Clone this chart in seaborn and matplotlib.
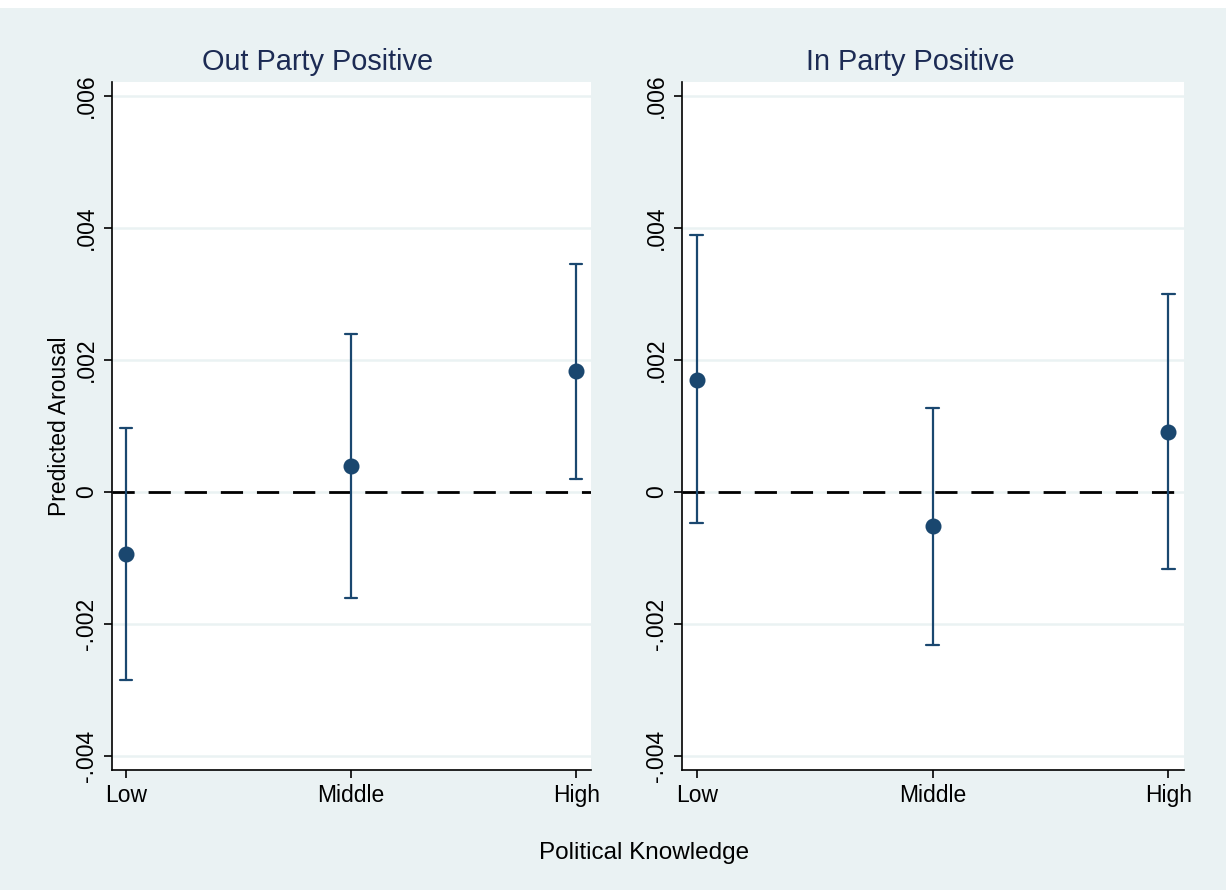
import seaborn as sns
import matplotlib.pyplot as plt
import matplotlib.patches as mpatches
import pandas as pd

# niveis de conhecimento politico
levels = ['Low', 'Middle', 'High']
panels = ['Out Party Positive', 'In Party Positive']

# estimativas e intervalos
out_est = [-0.00094, 0.00039, 0.00183]
out_lo = [-0.00285, -0.00161, 0.00019]
out_hi = [0.00097, 0.00239, 0.00345]

in_est = [0.00169, -0.00052, 0.00091]
in_lo = [-0.00047, -0.00232, -0.00117]
in_hi = [0.00389, 0.00128, 0.00300]

yticks = [-0.004, -0.002, 0, 0.002, 0.004, 0.006]
ytick_labels = ['-.004', '-.002', '0', '.002', '.004', '.006']

bg = '#eaf2f3'
navy = '#1a476f'

sns.set_theme(style='white')
plt.rcParams['font.family'] = ['Liberation Sans', 'DejaVu Sans']
plt.rcParams['text.color'] = 'black'
plt.rcParams['xtick.color'] = 'black'
plt.rcParams['ytick.color'] = 'black'

# tabela longa: cada nivel tem (lo, est, hi); mediana = est, min/max = IC
rows = []
for panel, est, lo, hi in [(panels[0], out_est, out_lo, out_hi),
                           (panels[1], in_est, in_lo, in_hi)]:
    for lev, e, l, h in zip(levels, est, lo, hi):
        for v in (l, e, h):
            rows.append({'panel': panel, 'level': lev, 'value': v})
df = pd.DataFrame(rows)

fig = plt.figure(figsize=(12.26, 8.9), dpi=100, facecolor=bg)
fig.patches.append(mpatches.Rectangle((0, 1 - 8 / 890), 1, 8 / 890, transform=fig.transFigure,
                                      facecolor='white', edgecolor='none', zorder=0))

axes_pos = [[112 / 1226, 1 - 770 / 890, 479 / 1226, 688 / 890],
            [682 / 1226, 1 - 770 / 890, 502 / 1226, 688 / 890]]
title_x = [318 / 1226, 910 / 1226]

for i, panel in enumerate(panels):
    ax = fig.add_axes(axes_pos[i])
    ax.set_facecolor('white')
    for y in yticks:
        ax.axhline(y, color=bg, lw=1.8, zorder=0)
    ax.axhline(0, color='black', lw=2, dashes=(8, 5), zorder=1)
    sns.pointplot(data=df[df['panel'] == panel], x='level', y='value', order=levels,
                  estimator='median', errorbar=('pi', 100), color=navy,
                  linestyle='none', markers='o', markersize=9.5, capsize=0.055,
                  err_kws={'linewidth': 1.6}, ax=ax)
    ax.set_xlim(-0.062, 2.066)
    ax.set_ylim(-0.004212, 0.006212)
    ax.set_yticks(yticks)
    ax.set_yticklabels(ytick_labels, rotation=90, va='center', fontsize=16.5)
    ax.set_xticks([0, 1, 2])
    ax.set_xticklabels(levels, fontsize=16.5)
    ax.tick_params(axis='both', direction='out', length=6, width=1.2, color='black',
                   labelcolor='black', left=True, bottom=True, pad=4)
    ax.set_xlabel('')
    ax.set_ylabel('')
    for side in ['top', 'right']:
        ax.spines[side].set_visible(False)
    for side in ['left', 'bottom']:
        ax.spines[side].set_color('black')
        ax.spines[side].set_linewidth(1.2)
    fig.text(title_x[i], 1 - 62 / 890, panel, ha='center', va='center',
             fontsize=20.8, color='#1c2b54')

fig.text(60 / 1226, 1 - 426 / 890, 'Predicted Arousal', rotation=90,
         ha='center', va='center', fontsize=16.5, color='black')
fig.text(644 / 1226, 1 - 853 / 890, 'Political Knowledge', ha='center', va='center',
         fontsize=17.5, color='black')

fig.savefig('out.png', dpi=100, facecolor=bg)
